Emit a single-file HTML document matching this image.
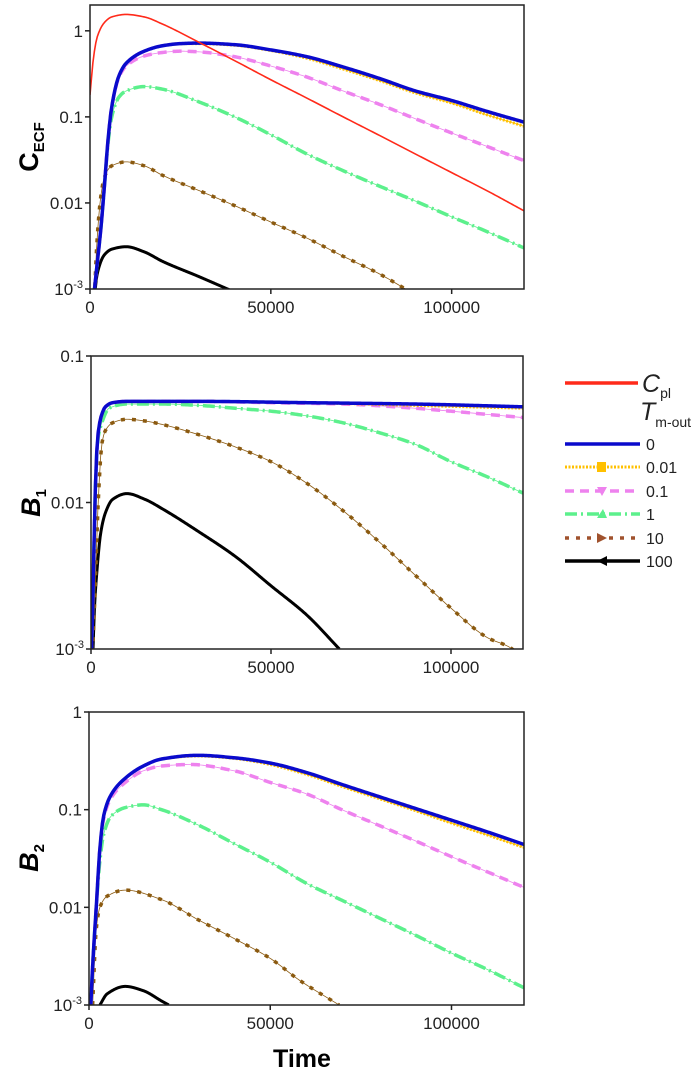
<!DOCTYPE html>
<html><head><meta charset="utf-8"><style>
html,body{margin:0;padding:0;background:#fff;}
svg{display:block;font-family:"Liberation Sans",Arial,sans-serif;}
</style></head><body>
<svg id="chart" width="693" height="1075" viewBox="0 0 693 1075"></svg>
<script>
// ---- data (time in s, value) ----
const p1_cpl_t=[0,1000,2000,4000,6000,10000,15000,20000,30000,40000,50000,60000,70000,80000,90000,100000,110000,120000];
const p1_cpl_v=[0.18,0.5,0.85,1.25,1.45,1.55,1.45,1.2,0.74,0.45,0.27,0.165,0.1,0.061,0.037,0.0225,0.0137,0.0081];
const p1_t0_t=[1000,2000,3000,4000,5000,6000,8000,10000,15000,20000,25000,30000,40000,50000,60000,70000,80000,90000,100000,110000,120000];
const p1_t0_v=[0.0008,0.002,0.005,0.016,0.055,0.13,0.3,0.42,0.58,0.67,0.71,0.72,0.69,0.6,0.5,0.38,0.28,0.2,0.155,0.115,0.087];
const p1_t001_v=[0.0008,0.002,0.005,0.016,0.055,0.13,0.3,0.42,0.58,0.67,0.71,0.71,0.68,0.59,0.48,0.36,0.265,0.19,0.145,0.105,0.078];
const p1_t01_t=[1000,2000,3000,4000,5000,6000,8000,10000,15000,20000,25000,30000,40000,50000,60000,70000,80000,90000,100000,110000,120000];
const p1_t01_v=[0.0008,0.002,0.005,0.016,0.055,0.13,0.29,0.39,0.51,0.56,0.58,0.57,0.5,0.39,0.29,0.2,0.14,0.095,0.065,0.045,0.031];
const p1_t1_t=[1000,2000,3000,4000,5000,6000,8000,10000,15000,20000,30000,40000,50000,60000,70000,80000,90000,100000,110000,120000];
const p1_t1_v=[0.0008,0.002,0.005,0.016,0.05,0.1,0.17,0.2,0.225,0.21,0.15,0.1,0.062,0.037,0.0237,0.0157,0.0105,0.0069,0.0046,0.003];
const p1_t10_t=[1200,2000,3000,4000,6000,10000,15000,20000,30000,40000,50000,60000,70000,80000,90000];
const p1_t10_v=[0.0008,0.004,0.012,0.02,0.027,0.03,0.027,0.021,0.014,0.0093,0.006,0.0039,0.0024,0.0015,0.00085];
const p1_t100_t=[1200,2000,4000,6000,10000,15000,20000,30000,40000];
const p1_t100_v=[0.0008,0.0015,0.0025,0.0029,0.0031,0.0027,0.0021,0.0014,0.00092];

const p2_t0_t=[0,500,1000,1500,2000,3000,4000,6000,10000,30000,60000,90000,120000];
const p2_t0_v=[0.0008,0.002,0.008,0.02,0.03,0.04,0.045,0.048,0.049,0.049,0.048,0.047,0.045];
const p2_t001_v=[0.0008,0.002,0.008,0.02,0.03,0.04,0.045,0.048,0.049,0.049,0.048,0.046,0.044];
const p2_t01_t=[0,500,1000,1500,2000,3000,4000,6000,10000,30000,50000,70000,90000,100000,120000];
const p2_t01_v=[0.0008,0.002,0.008,0.02,0.03,0.04,0.045,0.048,0.049,0.049,0.048,0.047,0.044,0.042,0.038];
const p2_t1_t=[0,500,1000,1500,2000,3000,5000,10000,20000,30000,40000,50000,60000,70000,80000,90000,100000,110000,120000];
const p2_t1_v=[0.0008,0.002,0.008,0.02,0.028,0.035,0.044,0.047,0.047,0.046,0.044,0.042,0.039,0.035,0.03,0.025,0.019,0.015,0.0116];
const p2_t10_t=[300,1000,2000,3000,4000,6000,10000,15000,20000,30000,40000,50000,60000,70000,80000,90000,100000,110000,117000,120000];
const p2_t10_v=[0.0008,0.002,0.01,0.025,0.031,0.035,0.037,0.036,0.034,0.029,0.024,0.019,0.0135,0.0088,0.0054,0.0032,0.0019,0.0012,0.001,0.0008];
const p2_t100_t=[500,1000,1600,2700,4000,6000,10000,15000,20000,30000,40000,50000,60000,69000];
const p2_t100_v=[0.0009,0.002,0.0033,0.0062,0.0085,0.0105,0.0115,0.0105,0.009,0.0063,0.0043,0.0027,0.0017,0.001];

const p3_t0_t=[500,1000,2000,3000,4000,6000,10000,15000,20000,30000,40000,50000,60000,70000,80000,90000,100000,110000,120000];
const p3_t0_v=[0.001,0.0025,0.01,0.04,0.085,0.14,0.21,0.28,0.33,0.36,0.34,0.3,0.24,0.18,0.136,0.103,0.078,0.059,0.044];
const p3_t001_v=[0.001,0.0025,0.01,0.04,0.085,0.14,0.21,0.28,0.33,0.355,0.335,0.29,0.23,0.172,0.13,0.098,0.073,0.055,0.041];
const p3_t01_t=[500,1000,2000,3000,4000,6000,10000,15000,20000,28000,40000,50000,60000,70000,80000,90000,100000,110000,120000];
const p3_t01_v=[0.001,0.0025,0.01,0.04,0.08,0.13,0.19,0.25,0.28,0.29,0.25,0.19,0.145,0.099,0.069,0.048,0.033,0.023,0.016];
const p3_t1_t=[500,1000,2000,3000,4000,6000,10000,15000,20000,30000,40000,50000,60000,70000,80000,90000,100000,110000,120000];
const p3_t1_v=[0.001,0.0025,0.01,0.03,0.055,0.085,0.105,0.112,0.1,0.07,0.045,0.029,0.0176,0.0117,0.0078,0.0052,0.0034,0.0023,0.0015];
const p3_t10_t=[1000,2000,3000,5000,10000,20000,30000,40000,50000,58000,69000];
const p3_t10_v=[0.001,0.006,0.01,0.013,0.015,0.012,0.0075,0.0048,0.003,0.0018,0.001];
const p3_t100_t=[3000,5000,10000,15000,20000,22000];
const p3_t100_v=[0.001,0.0013,0.00155,0.0014,0.0011,0.001];

const xTicks=[0,50000,100000];
const NS="http://www.w3.org/2000/svg";
const svg=document.getElementById('chart');
function el(tag,attrs,parent){const e=document.createElementNS(NS,tag);for(const k in attrs)e.setAttribute(k,attrs[k]);(parent||svg).appendChild(e);return e;}

const panels=[
 {x0:90,x1:524,top:5,bottom:289,ymin:-3,ymax:0.3,ticks:[[0,'1'],[-1,'0.1'],[-2,'0.01']],name:'c-ecf'},
 {x0:91,x1:523,top:356,bottom:649,ymin:-3,ymax:-1,ticks:[[-1,'0.1'],[-2,'0.01']],name:'b1'},
 {x0:89,x1:524,top:712,bottom:1005,ymin:-3,ymax:0,ticks:[[0,'1'],[-1,'0.1'],[-2,'0.01']],name:'b2'}
];
const styles={
 cpl:{stroke:'#ff2a1a',w:1.6,dash:''},
 t0:{stroke:'#0a0acc',w:3.5,dash:''},
 t001:{stroke:'#ffc000',w:3,dash:'2 1.5'},
 t01:{stroke:'#ee82ee',w:3.5,dash:'9 6'},
 t1:{stroke:'#5cf08c',w:3.5,dash:'12 4 2 4'},
 t10:{stroke:'#8b5a10',w:3.5,dash:'4 7'},
 t100:{stroke:'#000',w:3,dash:''}
};
// monotone cubic interpolation (Fritsch-Carlson) of log10 values over time
function monotone(xs,ys){const n=xs.length,d=[],m=new Array(n);
 for(let i=0;i<n-1;i++)d.push((ys[i+1]-ys[i])/(xs[i+1]-xs[i]));
 m[0]=d[0];m[n-1]=d[n-2];
 for(let i=1;i<n-1;i++){if(d[i-1]*d[i]<=0)m[i]=0;else{const h0=xs[i]-xs[i-1],h1=xs[i+1]-xs[i];const w1=2*h1+h0,w2=h1+2*h0;m[i]=(w1+w2)/(w1/d[i-1]+w2/d[i]);}}
 return x=>{let i=0;while(i<n-2&&x>xs[i+1])i++;const h=xs[i+1]-xs[i],t=(x-xs[i])/h;
  const h00=2*t*t*t-3*t*t+1,h10=t*t*t-2*t*t+t,h01=-2*t*t*t+3*t*t,h11=t*t*t-t*t;
  return h00*ys[i]+h10*h*m[i]+h01*ys[i+1]+h11*h*m[i+1];};}
panels.forEach((p,i)=>{
 p.sx=t=>p.x0+(t/120000)*(p.x1-p.x0);
 p.syl=l=>p.bottom-(l-p.ymin)/(p.ymax-p.ymin)*(p.bottom-p.top);
 p.sy=v=>p.syl(Math.log10(v));
 const g=el('g',{});
 
 
 const cp=el('clipPath',{id:'clip'+i},g);
 el('rect',{x:p.x0,y:p.top,width:p.x1-p.x0,height:p.bottom-p.top},cp);
 p.g=el('g',{'clip-path':'url(#clip'+i+')'},g);
 const frame=el('rect',{x:p.x0,y:p.top,width:p.x1-p.x0,height:p.bottom-p.top,fill:'none',stroke:'#222','stroke-width':1.5},g);
 
 
 p.ticks.concat([[-3,null]]).forEach(tk=>{const y=p.sy(Math.pow(10,tk[0]));
  el('line',{x1:p.x0-5,x2:p.x0,y1:y,y2:y,stroke:'#222','stroke-width':1.5},g);
  const tx=el('text',{x:p.x0-7,y:y+6,'text-anchor':'end','font-size':17,fill:'#222'},g);
  if(tk[1]!==null){tx.textContent=tk[1];}else{tx.innerHTML='10<tspan dy="-7" font-size="11">-3</tspan>';}
  
  });
 xTicks.forEach(t=>{const x=p.sx(t);
  el('line',{x1:x,x2:x,y1:p.bottom,y2:p.bottom+5,stroke:'#222','stroke-width':1.5},g);
  const tx=el('text',{x:x,y:p.bottom+24,'text-anchor':'middle','font-size':17,fill:'#222'},g);
  tx.textContent=String(t);
  
  });
});
function series(pi,key,ts,vs){const p=panels[pi],s=styles[key];
 const f=monotone(ts,vs.map(v=>Math.log10(v)));
 const t0=ts[0],t1=ts[ts.length-1],N=300;let d='';
 for(let k=0;k<=N;k++){const t=t0+(t1-t0)*k/N;d+=(k?'L':'M')+p.sx(t).toFixed(2)+','+p.syl(f(t)).toFixed(2);}
 const path=el('path',{d:d,fill:'none',stroke:s.stroke,'stroke-width':s.w,'stroke-dasharray':s.dash,'stroke-linejoin':'round'},p.g);
 
 
 if(s.dash){el('path',{d:d,fill:'none',stroke:s.stroke,'stroke-width':0.8},p.g);}
}
series(0,'t100',p1_t100_t,p1_t100_v);series(0,'t10',p1_t10_t,p1_t10_v);series(0,'t1',p1_t1_t,p1_t1_v);
series(0,'t01',p1_t01_t,p1_t01_v);series(0,'t001',p1_t0_t,p1_t001_v);series(0,'t0',p1_t0_t,p1_t0_v);series(0,'cpl',p1_cpl_t,p1_cpl_v);
series(1,'t100',p2_t100_t,p2_t100_v);series(1,'t10',p2_t10_t,p2_t10_v);series(1,'t1',p2_t1_t,p2_t1_v);
series(1,'t01',p2_t01_t,p2_t01_v);series(1,'t001',p2_t0_t,p2_t001_v);series(1,'t0',p2_t0_t,p2_t0_v);
series(2,'t100',p3_t100_t,p3_t100_v);series(2,'t10',p3_t10_t,p3_t10_v);series(2,'t1',p3_t1_t,p3_t1_v);
series(2,'t01',p3_t01_t,p3_t01_v);series(2,'t001',p3_t0_t,p3_t001_v);series(2,'t0',p3_t0_t,p3_t0_v);
</script>
<svg width="693" height="1075" style="position:absolute;left:0;top:0">
 <text x="38" y="147" transform="rotate(-90 38 147)" text-anchor="middle" font-size="27" font-weight="bold" font-family="Liberation Sans, sans-serif">C<tspan font-size="15" dy="6">ECF</tspan></text>
 <text x="40" y="503" transform="rotate(-90 40 503)" text-anchor="middle" font-size="27" font-weight="bold" font-style="italic" font-family="Liberation Sans, sans-serif">B<tspan font-size="15" font-style="normal" dy="6">1</tspan></text>
 <text x="38" y="858" transform="rotate(-90 38 858)" text-anchor="middle" font-size="27" font-weight="bold" font-style="italic" font-family="Liberation Sans, sans-serif">B<tspan font-size="15" font-style="normal" dy="6">2</tspan></text>
 <text x="302" y="1067" text-anchor="middle" font-size="25" font-weight="bold" font-family="Liberation Sans, sans-serif">Time</text>
 <g font-family="Liberation Sans, sans-serif" fill="#222">
  <line x1="565" x2="638" y1="383" y2="383" stroke="#ff2a1a" stroke-width="3.5"/>
  <text x="642" y="392" font-size="25" font-style="italic">C<tspan font-size="14" font-style="normal" dy="6">pl</tspan></text>
  <text x="640" y="420" font-size="25" font-style="italic">T<tspan font-size="14" font-style="normal" dy="7">m-out</tspan></text>
  <line x1="565" x2="640" y1="444" y2="444" stroke="#0a0acc" stroke-width="3.5"/>
  <text x="646" y="450" font-size="16">0</text>
  <line x1="565" x2="640" y1="467" y2="467" stroke="#ffc000" stroke-width="3" stroke-dasharray="2 1.5"/>
  <rect x="597" y="462" width="9" height="10" fill="#ffc000"/>
  <text x="646" y="473" font-size="16">0.01</text>
  <line x1="565" x2="640" y1="491" y2="491" stroke="#ee82ee" stroke-width="3.5" stroke-dasharray="9 6"/>
  <polygon points="597,487 607,487 602,496" fill="#ee82ee"/>
  <text x="646" y="497" font-size="16">0.1</text>
  <line x1="565" x2="640" y1="514" y2="514" stroke="#5cf08c" stroke-width="3.5" stroke-dasharray="12 4 2 4"/>
  <polygon points="597,518 607,518 603,509" fill="#5cf08c"/>
  <text x="646" y="520" font-size="16">1</text>
  <line x1="565" x2="640" y1="538" y2="538" stroke="#a0522d" stroke-width="3.5" stroke-dasharray="4 7"/>
  <polygon points="597,533 607,538 597,543" fill="#a0522d"/>
  <text x="646" y="544" font-size="16">10</text>
  <line x1="565" x2="640" y1="561" y2="561" stroke="#000" stroke-width="3.5"/>
  <polygon points="597,561 607,556 607,566" fill="#000"/>
  <text x="646" y="567" font-size="16">100</text>
 </g>
</svg>
</body></html>
